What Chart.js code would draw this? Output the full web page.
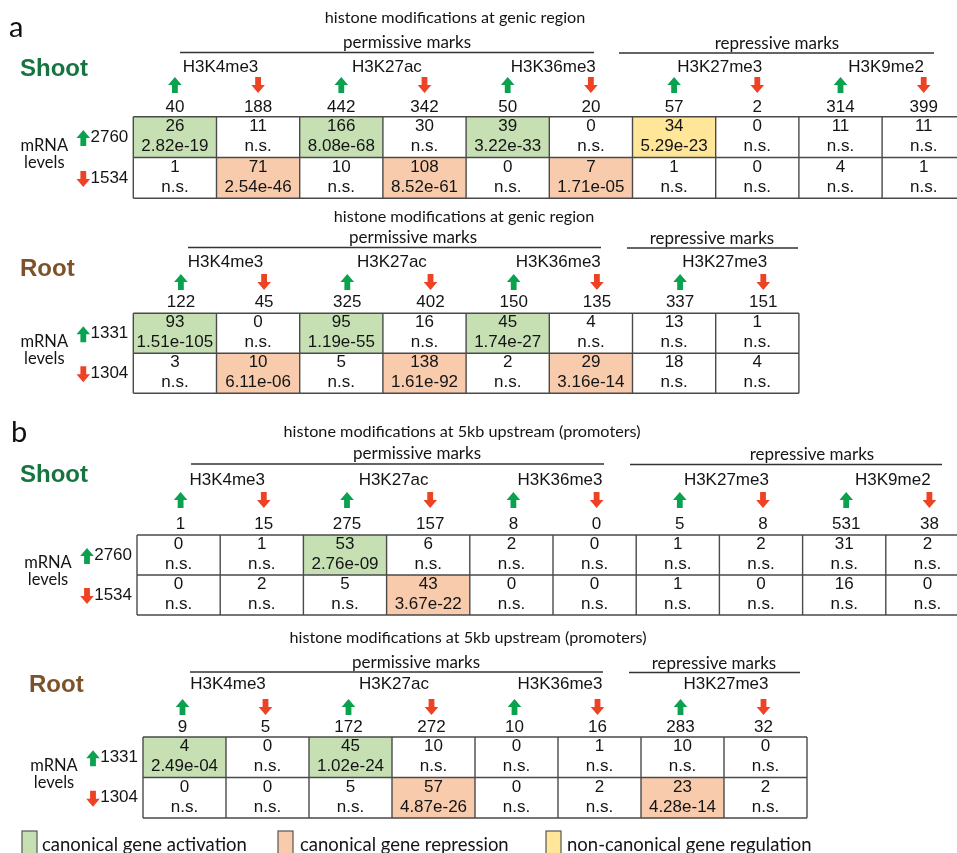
<!DOCTYPE html>
<html>
<head>
<meta charset="utf-8">
<script src="https://cdn.jsdelivr.net/npm/chart.js@4"></script>
<style>
  html, body { margin: 0; padding: 0; background: #ffffff; }
  #wrap { width: 957px; height: 853px; position: relative; }
</style>
</head>
<body>
<div id="wrap"><canvas id="chart"></canvas></div>
<script>
// ---- data -------------------------------------------------------------
const shootMarks = ['H3K4me3', 'H3K27ac', 'H3K36me3', 'H3K27me3', 'H3K9me2'];
const rootMarks = ['H3K4me3', 'H3K27ac', 'H3K36me3', 'H3K27me3'];
const repressiveMarks = ['H3K27me3', 'H3K9me2'];

// differentially expressed genes: [up, down]
const shootGenes = [2760, 1534];
const rootGenes = [1331, 1304];

// genic region, shoot (columns: mark up, mark down for each mark)
const shootGenicTotals = [40, 188, 442, 342, 50, 20, 57, 2, 314, 399];
const shootGenicUpCounts = [26, 11, 166, 30, 39, 0, 34, 0, 11, 11];
const shootGenicUpP = ['2.82e-19', 'n.s.', '8.08e-68', 'n.s.', '3.22e-33', 'n.s.', '5.29e-23', 'n.s.', 'n.s.', 'n.s.'];
const shootGenicDownCounts = [1, 71, 10, 108, 0, 7, 1, 0, 4, 1];
const shootGenicDownP = ['n.s.', '2.54e-46', 'n.s.', '8.52e-61', 'n.s.', '1.71e-05', 'n.s.', 'n.s.', 'n.s.', 'n.s.'];

// genic region, root
const rootGenicTotals = [122, 45, 325, 402, 150, 135, 337, 151];
const rootGenicUpCounts = [93, 0, 95, 16, 45, 4, 13, 1];
const rootGenicUpP = ['1.51e-105', 'n.s.', '1.19e-55', 'n.s.', '1.74e-27', 'n.s.', 'n.s.', 'n.s.'];
const rootGenicDownCounts = [3, 10, 5, 138, 2, 29, 18, 4];
const rootGenicDownP = ['n.s.', '6.11e-06', 'n.s.', '1.61e-92', 'n.s.', '3.16e-14', 'n.s.', 'n.s.'];

// 5kb upstream (promoters), shoot
const shootPromTotals = [1, 15, 275, 157, 8, 0, 5, 8, 531, 38];
const shootPromUpCounts = [0, 1, 53, 6, 2, 0, 1, 2, 31, 2];
const shootPromUpP = ['n.s.', 'n.s.', '2.76e-09', 'n.s.', 'n.s.', 'n.s.', 'n.s.', 'n.s.', 'n.s.', 'n.s.'];
const shootPromDownCounts = [0, 2, 5, 43, 0, 0, 1, 0, 16, 0];
const shootPromDownP = ['n.s.', 'n.s.', 'n.s.', '3.67e-22', 'n.s.', 'n.s.', 'n.s.', 'n.s.', 'n.s.', 'n.s.'];

// 5kb upstream (promoters), root
const rootPromTotals = [9, 5, 172, 272, 10, 16, 283, 32];
const rootPromUpCounts = [4, 0, 45, 10, 0, 1, 10, 0];
const rootPromUpP = ['2.49e-04', 'n.s.', '1.02e-24', 'n.s.', 'n.s.', 'n.s.', 'n.s.', 'n.s.'];
const rootPromDownCounts = [0, 0, 5, 57, 0, 2, 23, 2];
const rootPromDownP = ['n.s.', 'n.s.', 'n.s.', '4.87e-26', 'n.s.', 'n.s.', '4.28e-14', 'n.s.'];

const genicTitle = 'histone modifications at genic region';
const promTitle = 'histone modifications at 5kb upstream (promoters)';
const legendLabels = ['canonical gene activation', 'canonical gene repression', 'non-canonical gene regulation'];

// ---- styles ---------------------------------------------------------------
const classColors = { activation: '#c6e0b4', repression: '#f8cbad', noncanonical: '#ffe699' };
const legendOrder = ['activation', 'repression', 'noncanonical'];
const upColor = '#0aa24e';
const downColor = '#ee4224';
const tissueColors = { Shoot: '#157440', Root: '#7d5228' };
const inkColor = '#141414';
const tableFont = '17px "Liberation Sans", Arial, sans-serif';
const humanist = '"Lato", "Open Sans", sans-serif';

// ---- layout of each block -------------------------------------------------
const panels = [
  { letter: 'a', tissue: 'Shoot', title: genicTitle, marks: shootMarks, genes: shootGenes,
    totals: shootGenicTotals, upCounts: shootGenicUpCounts, upP: shootGenicUpP,
    downCounts: shootGenicDownCounts, downP: shootGenicDownP,
    L: { x0: 133.3, top: 116.7, colW: 83.2, rowH: 40.8, dx: 0, markDx: 4,
         yNum: 107, yArrow: 85, yMark: 67, yGroup: 42.5, yLine: 52.5, yTitle: 18,
         titleX: 455, permX: 407, permLine: [180, 594], repX: 777, repLine: [619, 934],
         tissueX: 20, tissueY: 69, letterX: 9, letterY: 37 } },
  { letter: '', tissue: 'Root', title: genicTitle, marks: rootMarks, genes: rootGenes,
    totals: rootGenicTotals, upCounts: rootGenicUpCounts, upP: rootGenicUpP,
    downCounts: rootGenicDownCounts, downP: rootGenicDownP,
    L: { x0: 133.3, top: 313.3, colW: 83.2, rowH: 40, dx: 6, markDx: 9,
         yNum: 302, yArrow: 282, yMark: 262, yGroup: 237.5, yLine: 247.5, yTitle: 217,
         titleX: 464, permX: 413, permLine: [188, 601], repX: 712, repLine: [627, 798],
         tissueX: 20, tissueY: 269 } },
  { letter: 'b', tissue: 'Shoot', title: promTitle, marks: shootMarks, genes: shootGenes,
    totals: shootPromTotals, upCounts: shootPromUpCounts, upP: shootPromUpP,
    downCounts: shootPromDownCounts, downP: shootPromDownP,
    L: { x0: 137, top: 535, colW: 83.2, rowH: 40, dx: 2, markDx: 7,
         yNum: 524, yArrow: 500, yMark: 480, yGroup: 454, yLine: 464, yTitle: 432,
         titleX: 462, permX: 417, permLine: [191, 604], repX: 812, repLine: [630, 942],
         tissueX: 20, tissueY: 475, letterX: 11, letterY: 442 } },
  { letter: '', tissue: 'Root', title: promTitle, marks: rootMarks, genes: rootGenes,
    totals: rootPromTotals, upCounts: rootPromUpCounts, upP: rootPromUpP,
    downCounts: rootPromDownCounts, downP: rootPromDownP,
    L: { x0: 143, top: 737, colW: 83, rowH: 40.5, dx: -2, markDx: 2,
         yNum: 727, yArrow: 707, yMark: 684, yGroup: 662.5, yLine: 672, yTitle: 638,
         titleX: 468, permX: 416, permLine: [190, 603], repX: 714, repLine: [629, 800],
         tissueX: 29, tissueY: 685 } }
];

const legendLayout = { y: 845, boxTop: 831, boxW: 15, boxX: [22, 278, 546], textX: [42, 300, 567] };

// Which colour class a significant cell falls into.
function cellClass(mark, colDir, rowDir, p) {
  if (p === 'n.s.') return null;
  const repressive = repressiveMarks.includes(mark);
  const canonical = repressive ? colDir !== rowDir : colDir === rowDir;
  if (!canonical) return 'noncanonical';
  return rowDir === 'up' ? 'activation' : 'repression';
}

// ---- drawing ---------------------------------------------------------------
function blockArrow(ctx, cx, cy, dir, color) {
  const s = dir === 'up' ? -1 : 1;
  const headH = 8, shaftH = 8, headW = 6.8, shaftW = 2.9;
  const tip = cy + s * (headH + shaftH) / 2;
  const base = tip - s * headH;
  const tail = base - s * shaftH;
  ctx.save();
  ctx.fillStyle = color;
  ctx.beginPath();
  ctx.moveTo(cx, tip);
  ctx.lineTo(cx + headW, base);
  ctx.lineTo(cx + shaftW, base);
  ctx.lineTo(cx + shaftW, tail);
  ctx.lineTo(cx - shaftW, tail);
  ctx.lineTo(cx - shaftW, base);
  ctx.lineTo(cx - headW, base);
  ctx.closePath();
  ctx.fill();
  ctx.restore();
}

function text(ctx, str, x, y, font, color, align) {
  ctx.font = font;
  ctx.fillStyle = color || inkColor;
  ctx.textAlign = align || 'center';
  ctx.textBaseline = 'middle';
  ctx.fillText(str, x, y);
}

const tablePlugin = {
  id: 'histoneTables',
  afterDraw(chart) {
    const ctx = chart.ctx;
    const xs = chart.scales.x, ys = chart.scales.y;
    const px = v => xs.getPixelForValue(v);
    const py = v => ys.getPixelForValue(v);

    panels.forEach(panel => {
      const L = panel.L;
      const nCols = panel.totals.length;
      const colLeft = i => L.x0 + i * L.colW;
      const colMid = i => L.x0 + (i + 0.5) * L.colW;
      const rowTop = r => L.top + r * L.rowH;
      const rowMid = r => L.top + (r + 0.5) * L.rowH;

      // panel letter and tissue label
      if (panel.letter) {
        ctx.font = '29px ' + humanist;
        ctx.fillStyle = '#111';
        ctx.textAlign = 'left';
        ctx.textBaseline = 'alphabetic';
        ctx.fillText(panel.letter, px(L.letterX), py(L.letterY));
      }
      text(ctx, panel.tissue, px(L.tissueX), py(L.tissueY), 'bold 24px "Liberation Sans", Arial, sans-serif',
        tissueColors[panel.tissue], 'left');

      // titles and mark groups
      text(ctx, panel.title, px(L.titleX), py(L.yTitle), '16.2px ' + humanist, inkColor);
      text(ctx, 'permissive marks', px(L.permX), py(L.yGroup), '17px ' + humanist, inkColor);
      text(ctx, 'repressive marks', px(L.repX), py(L.yGroup + 1), '17px ' + humanist, inkColor);
      ctx.save();
      ctx.strokeStyle = '#333';
      ctx.lineWidth = 1.3;
      ctx.beginPath();
      ctx.moveTo(px(L.permLine[0]), py(L.yLine));
      ctx.lineTo(px(L.permLine[1]), py(L.yLine));
      ctx.moveTo(px(L.repLine[0]), py(L.yLine + 0.5));
      ctx.lineTo(px(L.repLine[1]), py(L.yLine + 0.5));
      ctx.stroke();
      ctx.restore();

      // column headers: mark names, direction arrows, totals
      panel.marks.forEach((m, k) => {
        const cx = (colMid(2 * k) + colMid(2 * k + 1)) / 2 + L.markDx;
        text(ctx, m, px(cx), py(L.yMark), tableFont, inkColor);
      });
      panel.totals.forEach((t, i) => {
        const dir = i % 2 === 0 ? 'up' : 'down';
        blockArrow(ctx, px(colMid(i) + L.dx), py(L.yArrow), dir, dir === 'up' ? upColor : downColor);
        text(ctx, String(t), px(colMid(i) + L.dx), py(L.yNum), tableFont, inkColor);
      });

      // row labels
      text(ctx, 'mRNA', px(L.x0 - 89), py(rowTop(1) - 12), '16.5px ' + humanist, inkColor);
      text(ctx, 'levels', px(L.x0 - 89), py(rowTop(1) + 5), '16.5px ' + humanist, inkColor);
      ['up', 'down'].forEach((dir, r) => {
        blockArrow(ctx, px(L.x0 - 50), py(rowMid(r) + 1), dir, dir === 'up' ? upColor : downColor);
        text(ctx, String(panel.genes[r]), px(L.x0 - 5), py(rowMid(r)), tableFont, inkColor, 'right');
      });

      // cells
      const rows = [
        { dir: 'up', counts: panel.upCounts, p: panel.upP },
        { dir: 'down', counts: panel.downCounts, p: panel.downP }
      ];
      rows.forEach((row, r) => {
        row.counts.forEach((c, i) => {
          const mark = panel.marks[Math.floor(i / 2)];
          const colDir = i % 2 === 0 ? 'up' : 'down';
          const cls = cellClass(mark, colDir, row.dir, row.p[i]);
          if (cls) {
            ctx.fillStyle = classColors[cls];
            ctx.fillRect(px(colLeft(i)), py(rowTop(r)), px(colLeft(i + 1)) - px(colLeft(i)), py(rowTop(r + 1)) - py(rowTop(r)));
          }
          text(ctx, String(c), px(colMid(i)), py(rowMid(r) - 10.5), tableFont, inkColor);
          text(ctx, row.p[i], px(colMid(i)), py(rowMid(r) + 9.5), tableFont, inkColor);
        });
      });

      // grid lines
      ctx.save();
      ctx.strokeStyle = '#4a4a4a';
      ctx.lineWidth = 1.4;
      ctx.beginPath();
      for (let r = 0; r <= 2; r++) {
        ctx.moveTo(px(colLeft(0)), py(rowTop(r)));
        ctx.lineTo(px(colLeft(nCols)), py(rowTop(r)));
      }
      for (let i = 0; i <= nCols; i++) {
        ctx.moveTo(px(colLeft(i)), py(rowTop(0)));
        ctx.lineTo(px(colLeft(i)), py(rowTop(2)));
      }
      ctx.stroke();
      ctx.restore();
    });

    // legend
    legendOrder.forEach((cls, k) => {
      const lx = legendLayout.boxX[k];
      ctx.save();
      ctx.fillStyle = classColors[cls];
      ctx.strokeStyle = '#555';
      ctx.lineWidth = 1.2;
      ctx.fillRect(px(lx), py(legendLayout.boxTop), legendLayout.boxW, 30);
      ctx.strokeRect(px(lx), py(legendLayout.boxTop), legendLayout.boxW, 30);
      ctx.restore();
      text(ctx, legendLabels[k], px(legendLayout.textX[k]), py(legendLayout.y), '18.5px ' + humanist, inkColor, 'left');
    });
  }
};

new Chart(document.getElementById('chart'), {
  type: 'scatter',
  data: { datasets: [] },
  options: {
    responsive: true,
    maintainAspectRatio: false,
    animation: false,
    devicePixelRatio: 1,
    events: [],
    layout: { padding: 0 },
    plugins: { legend: { display: false }, tooltip: { enabled: false } },
    scales: {
      x: { type: 'linear', min: 0, max: 957, display: false },
      y: { type: 'linear', min: 0, max: 853, reverse: true, display: false }
    }
  },
  plugins: [tablePlugin]
});
</script>
</body>
</html>
